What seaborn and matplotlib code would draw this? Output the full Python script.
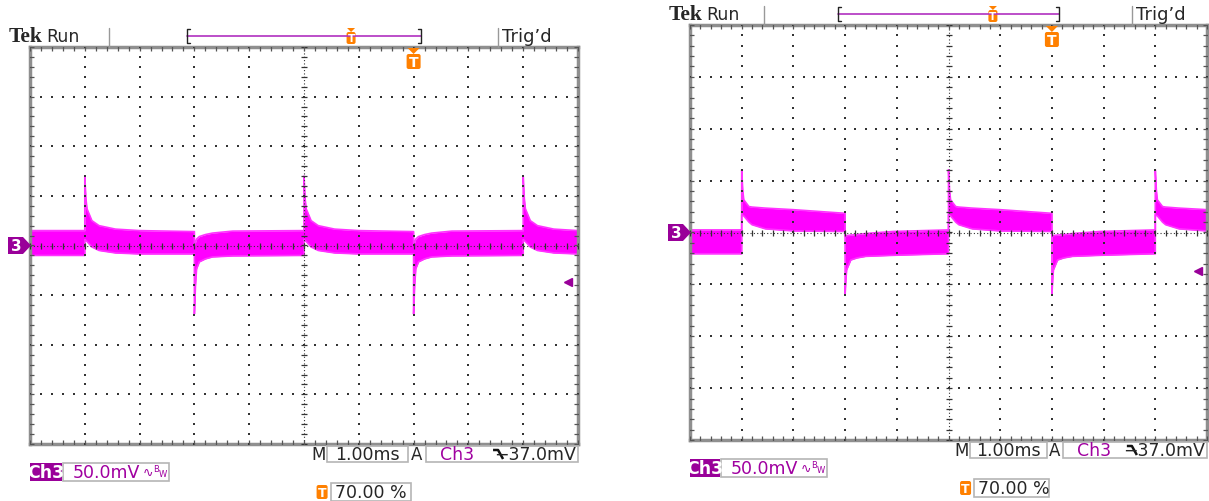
import numpy as np
import matplotlib
matplotlib.use("Agg")
import matplotlib.pyplot as plt
from matplotlib.patches import Rectangle, Polygon, FancyBboxPatch
import seaborn as sns

# ---- waveform envelopes, in divisions (x: 1 ms/div, y: 50 mV/div) ----
left_edges = [1, 3, 5, 7, 9]          # first edge rising, then alternating
left_rise_t = [0.0, 0.02, 0.04, 0.13, 0.26, 0.56, 1.0, 2.0]
left_rise_hi = [1.40, 0.95, 0.74, 0.50, 0.40, 0.33, 0.30, 0.28]
left_rise_lo = [0.12, 0.10, 0.08, -0.03, -0.10, -0.15, -0.17, -0.17]
left_fall_t = [0.0, 0.02, 0.04, 0.09, 0.2, 0.33, 0.7, 2.0]
left_fall_hi = [0.00, 0.06, 0.13, 0.18, 0.22, 0.25, 0.29, 0.30]
left_fall_lo = [-1.38, -0.80, -0.47, -0.33, -0.27, -0.23, -0.21, -0.20]

right_edges = [1, 3, 5, 7, 9]
right_rise_t = [0.0, 0.02, 0.04, 0.14, 0.2, 0.46, 1.0, 2.0]
right_rise_hi = [1.21, 0.82, 0.63, 0.50, 0.49, 0.47, 0.44, 0.37]
right_rise_lo = [0.34, 0.33, 0.32, 0.20, 0.15, 0.07, 0.03, 0.02]
right_fall_t = [0.0, 0.02, 0.03, 0.11, 0.23, 0.4, 0.93, 2.0]
right_fall_hi = [-0.07, -0.06, -0.06, -0.05, -0.04, -0.02, 0.02, 0.05]
right_fall_lo = [-1.20, -0.85, -0.72, -0.53, -0.49, -0.46, -0.44, -0.41]

trig_level = -0.74      # -37.0 mV at 50 mV/div
trig_pos = 0.70         # 70 % of record

# readouts
timebase = "1.00ms"
volts_div = "50.0mV"
channel = "Ch3"
trig_text = "\u221237.0mV"
pos_text = "70.00 %"

W, H = 1209, 502
MAGENTA = "#ff00ff"
PURPLE = "#990099"
ORANGE = "#ff8000"
GRAY = "#8f8f8f"

sns.set_style("white")
plt.rcParams["font.family"] = ["DejaVu Sans"]


def envelope(edges, rise, fall, xmax=10.0):
    xs = [0.0, edges[0]]
    hi = [fall[1][-1]] * 2
    lo = [fall[2][-1]] * 2
    bounds = list(edges[1:]) + [xmax]
    for i, e in enumerate(edges):
        t, h, l = rise if i % 2 == 0 else fall
        for tt, hh, ll in zip(t, h, l):
            if e + tt <= bounds[i] + 1e-9:
                xs.append(e + tt)
                hi.append(hh)
                lo.append(ll)
    return np.array(xs), np.array(hi), np.array(lo)


def t_badge(ov, cx, y, w, h, tri, fs):
    if tri:
        ov.add_patch(Polygon([(cx - tri, y), (cx + tri, y), (cx, y + tri)],
                             closed=True, color=ORANGE, lw=0))
        y = y + tri
    ov.add_patch(FancyBboxPatch((cx - w / 2, y), w, h,
                                boxstyle="round,pad=0,rounding_size=2",
                                color=ORANGE, lw=0))
    ov.text(cx, y + h / 2 + 0.5, "T", color="white", ha="center", va="center",
            fontsize=fs, fontweight="bold")


def draw_panel(fig, ov, box, env):
    L, T, R, B = box
    ax = fig.add_axes([L / W, 1 - B / H, (R - L) / W, (B - T) / H])
    ax.set_xlim(0, 10)
    ax.set_ylim(-4, 4)
    ax.set_xticks([])
    ax.set_yticks([])
    for s in ax.spines.values():
        s.set_visible(True)
        s.set_color(GRAY)
        s.set_linewidth(2.5)

    x, hi, lo = env
    ax.fill_between(x, lo, hi, color=MAGENTA, lw=0, zorder=2)
    sns.lineplot(x=x, y=hi, ax=ax, color="#ff33ff", lw=1.2, sort=False,
                 estimator=None, zorder=2)
    sns.lineplot(x=x, y=lo, ax=ax, color="#ff33ff", lw=1.2, sort=False,
                 estimator=None, zorder=2)

    # graticule
    gy = np.arange(-4, 4.001, 0.2)
    gx = np.arange(0, 10.001, 0.2)
    for v in [1, 2, 3, 4, 6, 7, 8, 9]:
        ax.scatter(np.full(gy.size, v), gy, s=2.0, marker="s", lw=0,
                   color="#333333", zorder=3)
    for h in [-3, -2, -1, 1, 2, 3]:
        ax.scatter(gx, np.full(gx.size, h), s=2.0, marker="s", lw=0,
                   color="#333333", zorder=3)
    ax.axhline(0, color="#333333", lw=0.8, ls=(0, (1, 2)), zorder=3)
    ax.axvline(5, color="#333333", lw=0.8, ls=(0, (1, 2)), zorder=3)
    ax.plot(gx, np.zeros(gx.size), ls="none", marker="|", ms=5, mew=0.9,
            color="#333333", zorder=3)
    ax.plot(np.full(gy.size, 5), gy, ls="none", marker="_", ms=5, mew=0.9,
            color="#333333", zorder=3)
    for yy in (-4, 4):
        ax.plot(gx, np.full(gx.size, yy), ls="none", marker="|", ms=6,
                mew=0.9, color="#555555", zorder=3)
    for xx in (0, 10):
        ax.plot(np.full(gy.size, xx), gy, ls="none", marker="_", ms=6,
                mew=0.9, color="#555555", zorder=3)

    # trigger level arrow
    ax.plot([9.82], [trig_level], marker="<", ms=6, color=PURPLE, ls="none",
            zorder=4)

    # ---- screen annotations in pixel coordinates ----
    def px(d):
        return L + d * (R - L) / 10.0

    y0 = (T + B) / 2.0

    # channel ground marker
    ov.add_patch(Polygon([(L - 22, y0 - 8.5), (L - 7, y0 - 8.5), (L + 1, y0),
                          (L - 7, y0 + 8.5), (L - 22, y0 + 8.5)],
                         closed=True, color=PURPLE, lw=0))
    ov.text(L - 14, y0 + 0.5, "3", color="white", ha="center", va="center",
            fontsize=11, fontweight="bold")

    # trigger position below top edge
    t_badge(ov, px(7.0), T + 1, 14, 15, 6, 10)

    # top status bar
    yt = T - 11
    ov.text(L - 21, yt + 0.5, "Tek", family="Liberation Serif",
            fontweight="bold", fontsize=15.5, ha="left", va="center")
    ov.text(L + 16, yt, "Run", fontsize=12.5, ha="left", va="center")
    for d in (1.44, 8.54):
        ov.plot([px(d), px(d)], [T - 19, T], color="#999999", lw=1.0)
    ov.text(px(8.62), yt, "Trig\u2019d", fontsize=13, ha="left", va="center")
    b0, b1 = px(2.87), px(7.14)
    ov.plot([b0, b1], [yt, yt], color="#b030c0", lw=1.2)
    for bx, sgn in ((b0, 1), (b1, -1)):
        ov.plot([bx + 3 * sgn, bx, bx, bx + 3 * sgn],
                [yt - 7, yt - 7, yt + 7, yt + 7], color="#222222", lw=1.0)
    t_badge(ov, b0 + trig_pos * (b1 - b0), yt - 8, 9, 12, 4, 7.5)

    # bottom readouts
    yb = B + 10
    ov.text(px(5.42) - 1, yb, "M", fontsize=12, ha="right", va="center")
    ov.add_patch(Rectangle((px(5.42), B + 2), px(6.9) - px(5.42), 16,
                           fill=False, ec="#b5b5b5", lw=1.2))
    ov.text((px(5.42) + px(6.9)) / 2, yb, timebase, fontsize=12.5,
            ha="center", va="center")
    ov.text(px(7.05), yb, "A", fontsize=12, ha="center", va="center")
    ov.add_patch(Rectangle((px(7.22), B + 2), R - px(7.22), 16,
                           fill=False, ec="#b5b5b5", lw=1.2))
    ov.text(px(7.48), yb, channel, fontsize=12.5, color="#a000a0",
            ha="left", va="center")
    sx = px(8.45)
    ov.plot([sx, sx + 5, sx + 10], [yb - 4, yb - 4, yb + 5], color="#111111",
            lw=1.8, solid_capstyle="butt")
    ov.text(R - 2, yb, trig_text, fontsize=12.5, ha="right", va="center")

    yc = B + 28
    ov.add_patch(Rectangle((L, B + 19), px(0.58) - L, 18, color=PURPLE, lw=0))
    ov.text((L + px(0.58)) / 2, yc, channel, color="white", fontsize=12.5,
            fontweight="bold", ha="center", va="center")
    vb = px(0.6)
    ov.add_patch(Rectangle((vb, B + 19), 106, 18,
                           fill=False, ec="#b5b5b5", lw=1.2))
    ov.text(vb + 10, yc, volts_div, color="#a000a0", fontsize=12.5,
            ha="left", va="center")
    ov.text(vb + 80, yc, "\u223f", color="#a000a0", fontsize=9,
            ha="left", va="center")
    ov.text(vb + 90, yc - 3, "B", color="#a000a0", fontsize=6,
            ha="left", va="center")
    ov.text(vb + 96, yc + 2, "W", color="#a000a0", fontsize=6,
            ha="left", va="center")

    yd = B + 48
    t_badge(ov, px(5.33), yd - 7, 11, 14, 0, 9)
    ov.add_patch(Rectangle((px(5.5), B + 39), px(6.95) - px(5.5), 18,
                           fill=False, ec="#b5b5b5", lw=1.2))
    ov.text(px(5.5) + 4, yd, pos_text, fontsize=12.5, ha="left", va="center")
    return ax


fig = plt.figure(figsize=(W / 100, H / 100), dpi=100)
fig.patch.set_facecolor("white")
ov = fig.add_axes([0, 0, 1, 1])
ov.set_xlim(0, W)
ov.set_ylim(H, 0)
ov.axis("off")
ov.set_zorder(5)
ov.patch.set_alpha(0)

left_env = envelope(left_edges,
                    (left_rise_t, left_rise_hi, left_rise_lo),
                    (left_fall_t, left_fall_hi, left_fall_lo))
right_env = envelope(right_edges,
                     (right_rise_t, right_rise_hi, right_rise_lo),
                     (right_fall_t, right_fall_hi, right_fall_lo))

draw_panel(fig, ov, (30, 48, 578, 445), left_env)
draw_panel(fig, ov, (690, 26, 1207, 441), right_env)

fig.savefig("out.png", dpi=100, facecolor="white")
